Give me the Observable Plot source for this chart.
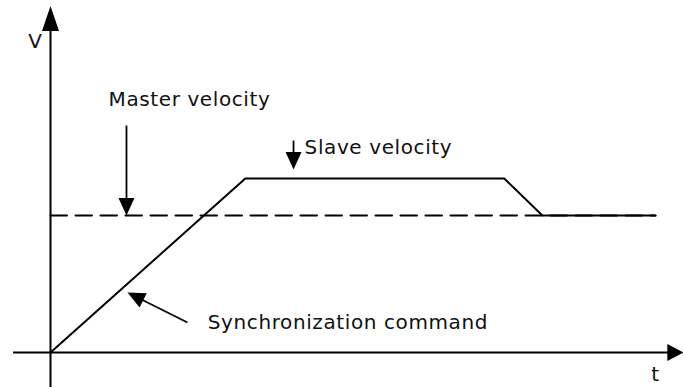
<!DOCTYPE html>
<html><head><meta charset="utf-8">
<script src="https://cdn.jsdelivr.net/npm/d3@7"></script>
<script src="https://cdn.jsdelivr.net/npm/@observablehq/plot@0.6"></script>
<style>
html,body{margin:0;padding:0;background:#fff;}
#chart svg text{letter-spacing:0.6px;}
</style></head><body><div id="chart"></div>
<script>
// Slave velocity profile (time, velocity)
const slaveTime = [0, 3.22, 7.5, 8.13, 10];
const slaveVelocity = [0, 1.27, 1.27, 1, 1];
// Master velocity (constant)
const masterTime = [0, 10];
const masterVelocity = [1, 1];
// Axis extents (time axis, velocity axis)
const timeAxis = [-0.61, 10.46];
const velocityAxis = [-0.26, 2.53];
// Labels
const labelText = ["V", "Master velocity", "Slave velocity", "Synchronization command", "t"];
const labelX = [-0.25, 0.96, 4.2, 2.6, 10.0];
const labelY = [2.22, 1.8, 1.45, 0.17, -0.21];
const labelAnchor = ["middle", "start", "start", "start", "middle"];
// Annotation arrows: tail -> tip
const arrowFromX = [1.256, 4.017, 2.264];
const arrowFromY = [1.657, 1.547, 0.219];
const arrowToX = [1.256, 4.017, 1.273];
const arrowToY = [1.0, 1.336, 0.438];

const xDomain = [0, 10], xRange = [50, 655];
const yDomain = [0, 1], yRange = [352, 215];
const sx = d3.scaleLinear(xDomain, xRange);
const sy = d3.scaleLinear(yDomain, yRange);

function headSymbol(len, half) {
  return {draw(ctx) { ctx.moveTo(0, 0); ctx.lineTo(half, len); ctx.lineTo(-half, len); ctx.closePath(); }};
}
const axisHeadV = headSymbol(25, 8.5);
const axisHeadH = headSymbol(16, 8.5);
const noteHead = headSymbol(17.5, 8);

// arrow geometry in screen space for rotation & shaft end
const arrows = arrowFromX.map((_, i) => {
  const dx = sx(arrowToX[i]) - sx(arrowFromX[i]);
  const dy = sy(arrowToY[i]) - sy(arrowFromY[i]);
  const L = Math.hypot(dx, dy);
  const back = 10;
  return {
    x1: arrowFromX[i], y1: arrowFromY[i],
    x2: sx.invert(sx(arrowToX[i]) - dx / L * back),
    y2: sy.invert(sy(arrowToY[i]) - dy / L * back),
    tx: arrowToX[i], ty: arrowToY[i],
    angle: Math.atan2(dx, -dy) * 180 / Math.PI
  };
});

const slave = slaveTime.map((t, i) => ({t, v: slaveVelocity[i]}));
const master = masterTime.map((t, i) => ({t, v: masterVelocity[i]}));
const labels = labelText.map((s, i) => ({s, x: labelX[i], y: labelY[i], a: labelAnchor[i]}));

const vTop = velocityAxis[1], tRight = timeAxis[1];
const vShaftEnd = sy.invert(sy(vTop) + 15);
const tShaftEnd = sx.invert(sx(tRight) - 8);

const textOpts = {fontSize: 20, fontFamily: "DejaVu Sans", fill: "#111", lineAnchor: "bottom"};

const chart = Plot.plot({
  width: 683, height: 387,
  margin: 0,
  x: {domain: xDomain, range: xRange, axis: null},
  y: {domain: yDomain, range: yRange, axis: null},
  style: {background: "#fff"},
  marks: [
    // axes
    Plot.ruleX([0], {y1: velocityAxis[0], y2: vShaftEnd, stroke: "#000", strokeWidth: 2}),
    Plot.ruleY([0], {x1: timeAxis[0], x2: tShaftEnd, stroke: "#000", strokeWidth: 2}),
    Plot.dot([0], {x: 0, y: vTop, symbol: axisHeadV, fill: "#000", stroke: "none", r: 5}),
    Plot.dot([0], {x: tRight, y: 0, symbol: axisHeadH, fill: "#000", stroke: "none", rotate: 90, r: 5}),
    // master velocity (dashed)
    Plot.line(master, {x: "t", y: "v", stroke: "#000", strokeWidth: 2, strokeDasharray: "16.5,8.5"}),
    // slave velocity
    Plot.line(slave, {x: "t", y: "v", stroke: "#000", strokeWidth: 2}),
    // annotation arrows
    Plot.link(arrows, {x1: "x1", y1: "y1", x2: "x2", y2: "y2", stroke: "#000", strokeWidth: 1.8}),
    Plot.dot(arrows, {x: "tx", y: "ty", rotate: "angle", symbol: noteHead, fill: "#000", stroke: "none", r: 5}),
    // labels
    Plot.text(labels.filter(d => d.a === "start"), {x: "x", y: "y", text: "s", textAnchor: "start", ...textOpts}),
    Plot.text(labels.filter(d => d.a === "middle"), {x: "x", y: "y", text: "s", textAnchor: "middle", ...textOpts})
  ]
});
document.getElementById("chart").appendChild(chart);
</script></body></html>
